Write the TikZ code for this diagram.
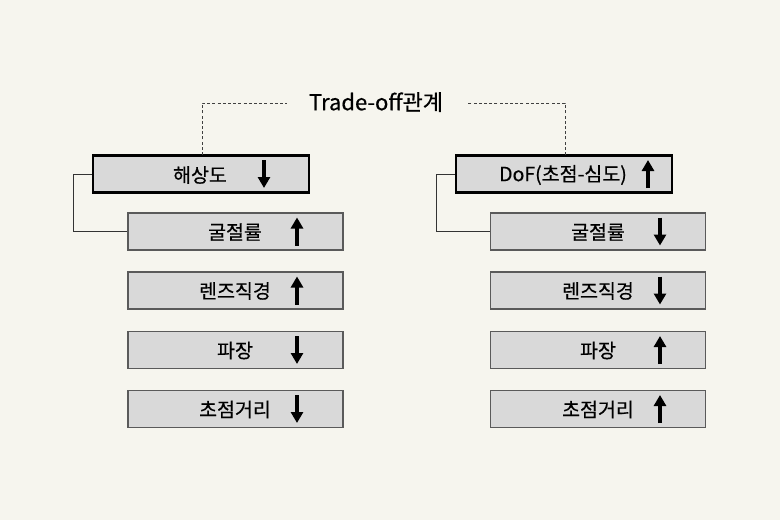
\documentclass[tikz,border=0pt]{standalone}
\usepackage{fontspec}
\setmainfont{Noto Sans CJK KR}
\newfontfamily\lblfont{Noto Sans CJK KR}[FakeBold=0.5]
\usetikzlibrary{arrows.meta}
\definecolor{bg}{HTML}{F6F5EE}
\definecolor{boxfill}{HTML}{D9D9D9}
\definecolor{subedge}{HTML}{5A5A5A}
\tikzset{
  topbox/.style={draw=black, line width=2.6pt, fill=boxfill, minimum width=216pt, minimum height=37pt, inner sep=0pt},
  subbox/.style={draw=subedge, line width=1.3pt, fill=boxfill, minimum width=215pt, minimum height=37pt, inner sep=0pt},
  lbl/.style={font=\lblfont\fontsize{19.5pt}{21pt}\selectfont, inner sep=0pt, anchor=center},
  updown/.style={line width=3.4pt, -{Triangle[length=11pt,width=12pt]}},
  link/.style={line width=0.9pt, draw=black!80},
  dlink/.style={line width=0.9pt, draw=black!75, dash pattern=on 3pt off 2.2pt}
}
\begin{document}
\begin{tikzpicture}[x=1pt,y=-1pt]
\fill[bg] (0,0) rectangle (780,520);
\useasboundingbox (0,0) rectangle (780,520);
% title
\node[font=\lblfont\fontsize{22pt}{24pt}\selectfont, inner sep=0pt] (title) at (376,102) {Trade-off관계};
% top boxes
\node[topbox] (L0) at (201,174) {};
\node[topbox] (R0) at (564,174) {};
% sub boxes
\foreach \n/\y in {1/231.5,2/290.5,3/350,4/409}{
  \node[subbox] (L\n) at (235.5,\y) {};
  \node[subbox] (R\n) at (598,\y) {};
}
% labels
\node[lbl] (tL0) at (200,175) {해상도};
\node[lbl] (tR0) at (563,175) {DoF(초점-심도)};
\node[lbl] (tL1) at (235,232) {굴절률};
\node[lbl] (tL2) at (235,291) {렌즈직경};
\node[lbl] (tL3) at (235,350.5) {파장};
\node[lbl] (tL4) at (235,409.5) {초점거리};
\node[lbl] (tR1) at (598,232) {굴절률};
\node[lbl] (tR2) at (598,291) {렌즈직경};
\node[lbl] (tR3) at (598,350.5) {파장};
\node[lbl] (tR4) at (598,409.5) {초점거리};
% arrows (yshift positive = up on the page)
\coordinate (aL0) at (264,174);
\draw[updown] ([yshift=14]aL0) -- ([yshift=-14]aL0);
\coordinate (aR0) at (648,174);
\draw[updown] ([yshift=-14]aR0) -- ([yshift=14]aR0);
\foreach \n/\y/\d in {1/231.5/1,2/290.5/1,3/350/-1,4/409/-1}{
  \coordinate (aL\n) at (297,\y);
  \draw[updown] ([yshift=-14*\d]aL\n) -- ([yshift=14*\d]aL\n);
  \coordinate (aR\n) at (660,\y);
  \draw[updown] ([yshift=14*\d]aR\n) -- ([yshift=-14*\d]aR\n);
}
% connectors
\draw[link] (L0.west) -- ++(-18,0) |- (L1.west);
\draw[link] (R0.west) -- ++(-18,0) |- (R1.west);
\draw[dlink] (202,155) -- (202,103) -- (287,103);
\draw[dlink] (565,155) -- (565,103) -- (468,103);
\end{tikzpicture}
\end{document}
